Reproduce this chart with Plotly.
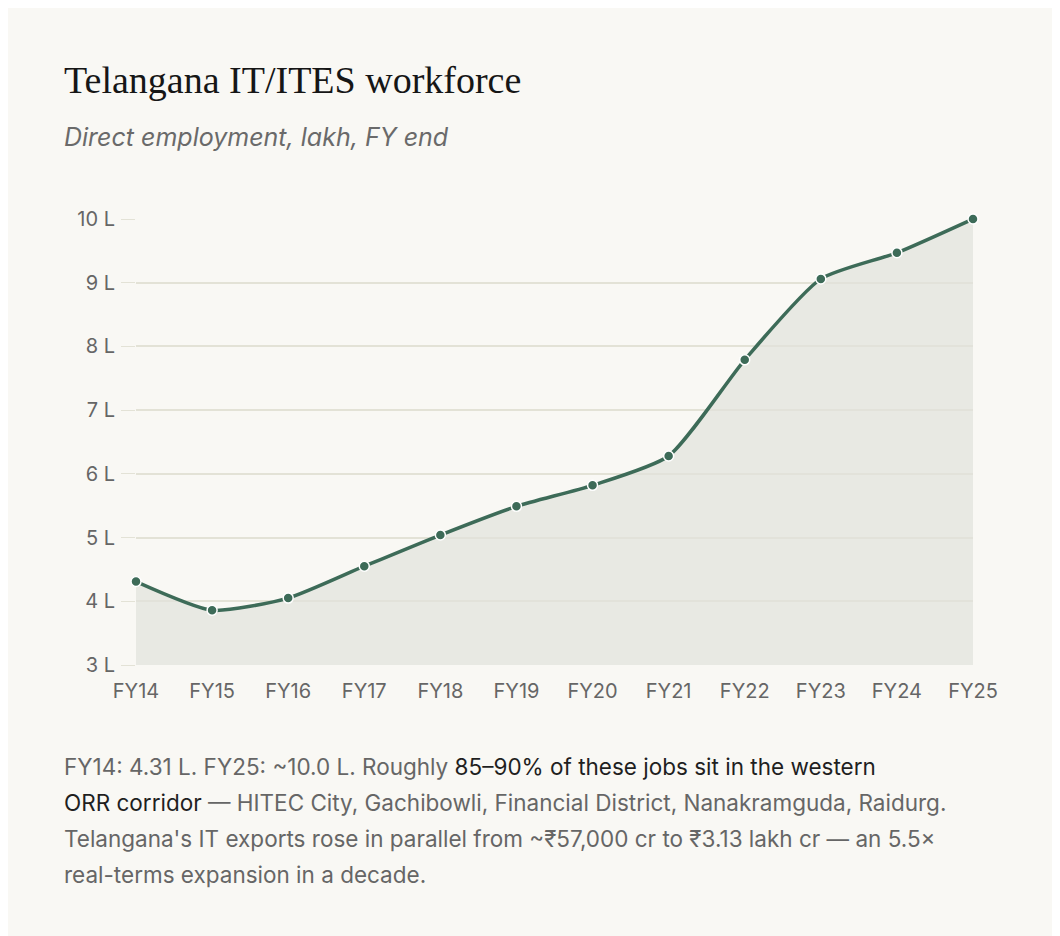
import plotly.graph_objects as go

years = ["FY14", "FY15", "FY16", "FY17", "FY18", "FY19", "FY20", "FY21", "FY22", "FY23", "FY24", "FY25"]
workforce_lakh = [4.31, 3.86, 4.05, 4.55, 5.04, 5.49, 5.82, 6.28, 7.79, 9.06, 9.47, 10.0]
y_ticks = [3, 4, 5, 6, 7, 8, 9, 10]
y_tick_labels = [f"{v} L" for v in y_ticks]

footer_lines = [
    "FY14: 4.31 L. FY25: ~10.0 L. Roughly <span style='color:#1f1f1f'>85–90% of these jobs sit in the western</span>",
    "<span style='color:#1f1f1f'>ORR corridor</span> — HITEC City, Gachibowli, Financial District, Nanakramguda, Raidurg.",
    "Telangana's IT exports rose in parallel from ~₹57,000 cr to ₹3.13 lakh cr — an 5.5×",
    "real-terms expansion in a decade.",
]

bg = "#f9f8f4"
green = "#3d6b58"
W, H = 1052, 928
L, R, T, B = 128, 87, 211, 271

fig = go.Figure()
fig.add_trace(go.Scatter(
    x=list(range(len(years))),
    y=[3] * len(years),
    mode="lines", line=dict(width=0), hoverinfo="skip", showlegend=False,
))
fig.add_trace(go.Scatter(
    x=list(range(len(years))),
    y=workforce_lakh,
    mode="lines+markers",
    line=dict(color=green, width=3.5, shape="spline", smoothing=0.6),
    marker=dict(size=10, color=green, line=dict(color="white", width=1.5)),
    fill="tonexty", fillcolor="rgba(225,226,220,0.7)",
    showlegend=False, cliponaxis=False,
))

fig.update_layout(
    width=W, height=H,
    paper_bgcolor=bg, plot_bgcolor=bg,
    margin=dict(l=L, r=R, t=T, b=B),
    font=dict(family="Inter", color="#666666", size=20),
    xaxis=dict(
        range=[0, len(years) - 1], tickvals=list(range(len(years))), ticktext=years,
        showgrid=False, zeroline=False, showline=False, ticks="", ticklabelstandoff=12,
    ),
    yaxis=dict(
        range=[3, 10], tickvals=y_ticks, ticktext=y_tick_labels,
        gridcolor="#e3e2d6", gridwidth=1.5, zeroline=False, ticks="outside",
        ticklen=14, tickcolor="#e3e2d6", showline=False, ticklabelstandoff=2,
    ),
)

fig.add_annotation(
    text="Telangana IT/ITES workforce", x=54, y=72,
    showarrow=False, xanchor="left", yanchor="middle",
    font=dict(family="Liberation Serif", size=38, color="#161616"),
)
fig.add_annotation(
    text="<i>Direct employment, lakh, FY end</i>", x=54, y=129,
    showarrow=False, xanchor="left", yanchor="middle",
    font=dict(family="Inter", size=25, color="#6a6a6a"),
)
for i, line in enumerate(footer_lines):
    fig.add_annotation(
        text=line, x=54, y=758 + i * 36, showarrow=False,
        xanchor="left", yanchor="middle",
        font=dict(family="Inter", size=22.5, color="#666666"),
    )

# annotations positioned in pixels: convert to paper coords
for a in fig.layout.annotations:
    px, py = a.x, a.y
    a.x = (px - L) / (W - L - R)
    a.y = 1 - (py - T) / (H - T - B)
    a.xref = "paper"
    a.yref = "paper"

fig.write_html("out.html")
